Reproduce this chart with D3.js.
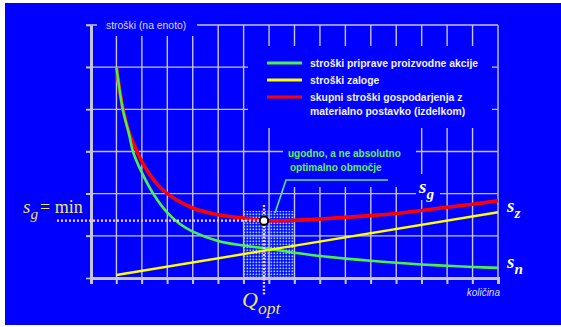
<!DOCTYPE html>
<html>
<head>
<meta charset="utf-8">
<script src="https://cdn.jsdelivr.net/npm/d3@7"></script>
<style>
    body { margin: 0; background: #fff; }
    svg { display: block; }
</style>
</head>
<body>
<script>
// quantity measured in grid steps (0..16), cost in grid steps (0..6)
const greenQty  = [1, 1.25, 1.5, 1.65, 2, 2.5, 3, 3.5, 4, 5, 6, 7, 8, 9, 10, 11, 12, 13, 14, 15, 16];
const greenCost = [5.0, 4.0, 3.4, 3.0, 2.5, 1.95, 1.55, 1.28, 1.1, 0.88, 0.77, 0.69, 0.60, 0.52, 0.46, 0.41, 0.36, 0.32, 0.29, 0.26, 0.24];
const yellowQty  = [1, 16];
const yellowCost = [0.07, 1.56];
const redQty  = [1, 1.26, 1.5, 1.81, 2, 2.5, 3, 4, 5, 6, 6.8, 8, 9, 10, 11, 12, 13, 14, 15, 16];
const redCost = [5.0, 4.0, 3.45, 3.0, 2.76, 2.3, 2.0, 1.66, 1.5, 1.42, 1.36, 1.37, 1.40, 1.44, 1.48, 1.53, 1.60, 1.68, 1.75, 1.83];
const optQty = 6.8;
const minCost = 1.36;
const zoneQty = [6, 8];
const zoneTop = 1.59;

const legendLabels = [
    ["stroški priprave proizvodne akcije"],
    ["stroški zaloge"],
    ["skupni stroški gospodarjenja z", "materialno postavko (izdelkom)"]
];
const legendColors = ["#4cf04c", "#ffff00", "#ff0000"];
const yTitle = "stroški (na enoto)";
const xTitle = "količina";
const noteLines = ["ugodno, a ne absolutno", "optimalno območje"];

const svgWidth = 561;
const svgHeight = 327;
const plot = {left: 91, right: 498, top: 25, bottom: 278};

const blue = "#0000ff";
const gridColor = "#c4c4d4";
const paleYellow = "#e8e65e";

window.onload = main;

function main() {
    const svg = d3.select("body").append("svg")
        .attr("width", svgWidth)
        .attr("height", svgHeight);

    svg.append("rect")
        .attr("x", 5).attr("y", 3)
        .attr("width", svgWidth - 5).attr("height", 322)
        .attr("fill", blue);

    const x = d3.scaleLinear().domain([0, 16]).range([plot.left, plot.right]);
    const y = d3.scaleLinear().domain([0, 6]).range([plot.bottom, plot.top]);

    // dotted "good enough" zone
    const defs = svg.append("defs");
    const pat = defs.append("pattern")
        .attr("id", "dots")
        .attr("patternUnits", "userSpaceOnUse")
        .attr("width", 3).attr("height", 3);
    pat.append("rect").attr("x", 0.5).attr("y", 0.5).attr("width", 1.7).attr("height", 1.7)
        .attr("fill", "#9cd6ff");
    svg.append("rect")
        .attr("x", x(zoneQty[0]))
        .attr("y", y(zoneTop))
        .attr("width", x(zoneQty[1]) - x(zoneQty[0]))
        .attr("height", y(0) - y(zoneTop))
        .attr("fill", "url(#dots)");

    // grid
    const grid = svg.append("g").attr("stroke", gridColor).attr("stroke-width", 1.4);
    grid.selectAll(null)
        .data(x.ticks(16).slice(1))
        .join("line")
        .attr("x1", d => x(d)).attr("x2", d => x(d))
        .attr("y1", plot.top).attr("y2", plot.bottom + 6);
    grid.selectAll(null)
        .data(y.ticks(6).slice(1))
        .join("line")
        .attr("x1", plot.left - 5).attr("x2", plot.right)
        .attr("y1", d => y(d)).attr("y2", d => y(d));

    // axes
    svg.append("g")
        .attr("transform", `translate(0, ${plot.bottom})`)
        .call(d3.axisBottom(x).ticks(16).tickSize(6).tickFormat(""))
        .call(g => g.select(".domain").attr("stroke", gridColor).attr("stroke-width", 3))
        .call(g => g.selectAll(".tick line").attr("stroke", gridColor).attr("stroke-width", 1.6));
    svg.append("g")
        .attr("transform", `translate(${plot.left}, 0)`)
        .call(d3.axisLeft(y).ticks(6).tickSize(5).tickSizeOuter(0).tickFormat(""))
        .call(g => g.select(".domain").attr("stroke", gridColor).attr("stroke-width", 3))
        .call(g => g.selectAll(".tick line").attr("stroke", gridColor).attr("stroke-width", 1.6));

    // blue boxes behind the labels cut the grid
    const masks = [
        [97, 16, 100, 20],
        [248, 46, 244, 82],
        [283, 128, 133, 59],
        [416, 174, 24, 26]
    ];
    svg.selectAll(null)
        .data(masks)
        .join("rect")
        .attr("x", d => d[0]).attr("y", d => d[1])
        .attr("width", d => d[2]).attr("height", d => d[3])
        .attr("fill", blue);

    // curves
    const line = d3.line().x(d => x(d[0])).y(d => y(d[1])).curve(d3.curveCatmullRom.alpha(0.5));
    const curves = [
        {qty: redQty, cost: redCost, color: legendColors[2], width: 3.6},
        {qty: greenQty, cost: greenCost, color: legendColors[0], width: 2.6},
        {qty: yellowQty, cost: yellowCost, color: legendColors[1], width: 2.4}
    ];
    svg.selectAll(null)
        .data(curves)
        .join("path")
        .attr("d", c => line(d3.zip(c.qty, c.cost)))
        .attr("fill", "none")
        .attr("stroke", c => c.color)
        .attr("stroke-width", c => c.width);

    // optimum guides
    svg.append("line")
        .attr("x1", 57).attr("x2", x(optQty))
        .attr("y1", y(minCost)).attr("y2", y(minCost))
        .attr("stroke", "#f0d4ff").attr("stroke-width", 2.4)
        .attr("stroke-dasharray", "2,2");
    svg.append("line")
        .attr("x1", x(optQty)).attr("x2", x(optQty))
        .attr("y1", 205).attr("y2", 296)
        .attr("stroke", "#f0d4ff").attr("stroke-width", 2.4)
        .attr("stroke-dasharray", "2,1.5");
    svg.append("circle")
        .attr("cx", x(optQty)).attr("cy", y(minCost))
        .attr("r", 4.2)
        .attr("fill", "#fff").attr("stroke", "#000").attr("stroke-width", 2);

    // y title
    svg.append("text")
        .attr("x", 106).attr("y", 29)
        .attr("font-family", "Liberation Sans, Arial, sans-serif")
        .attr("font-size", 10.4)
        .attr("fill", "#dcdcf0")
        .text(yTitle);

    // x title
    svg.append("text")
        .attr("x", 500).attr("y", 296)
        .attr("text-anchor", "end")
        .attr("font-family", "Liberation Sans, Arial, sans-serif")
        .attr("font-style", "italic")
        .attr("font-size", 10)
        .attr("fill", "#dcdcf0")
        .text(xTitle);

    // legend
    const legendRowY = [63, 80, 97];
    const leg = svg.append("g");
    leg.selectAll(null)
        .data(legendColors)
        .join("line")
        .attr("x1", 267).attr("x2", 302)
        .attr("y1", (d, i) => legendRowY[i]).attr("y2", (d, i) => legendRowY[i])
        .attr("stroke", d => d).attr("stroke-width", 3);
    leg.selectAll(null)
        .data(legendLabels)
        .join("text")
        .attr("x", 310)
        .attr("y", (d, i) => legendRowY[i] + 4)
        .attr("font-family", "Liberation Sans, Arial, sans-serif")
        .attr("font-weight", "bold")
        .attr("font-size", 10.4)
        .attr("fill", "#f2f2f2")
        .selectAll("tspan")
        .data(d => d)
        .join("tspan")
        .attr("x", 310)
        .attr("dy", (d, i) => i === 0 ? 0 : 14)
        .text(d => d);

    // note with leader line
    svg.append("polyline")
        .attr("points", "388,180 286,180 275,213")
        .attr("fill", "none")
        .attr("stroke", "#5ee8a6").attr("stroke-width", 1.6);
    svg.append("text")
        .attr("font-family", "Liberation Sans, Arial, sans-serif")
        .attr("font-weight", "bold")
        .attr("font-size", 10)
        .attr("fill", "#66f066")
        .selectAll("tspan")
        .data(noteLines)
        .join("tspan")
        .attr("x", (d, i) => i === 0 ? 288 : 290)
        .attr("y", (d, i) => 157 + i * 14)
        .text(d => d);

    // math labels
    const serif = "Liberation Serif, Times New Roman, serif";
    const sub = (sel, base, idx, x0, y0, size, color, weight) => {
        const t = sel.append("text")
            .attr("x", x0).attr("y", y0)
            .attr("font-family", serif)
            .attr("font-style", "italic")
            .attr("font-weight", weight)
            .attr("font-size", size)
            .attr("fill", color);
        t.append("tspan").text(base);
        t.append("tspan").attr("dy", size * 0.32).attr("font-size", size * 0.8).text(idx);
        return t;
    };
    sub(svg, "s", "g", 23, 213, 19, paleYellow, "normal");
    svg.append("text")
        .attr("x", 40).attr("y", 213)
        .attr("font-family", serif)
        .attr("font-size", 18)
        .attr("fill", paleYellow)
        .text("= min");
    sub(svg, "Q", "opt", 242, 307, 22, paleYellow, "normal");
    sub(svg, "s", "g", 419, 193, 19, "#fff", "bold");
    sub(svg, "s", "z", 507, 212, 19, "#fff", "bold");
    sub(svg, "s", "n", 507, 268, 19, "#fff", "bold");
}
</script>
</body>
</html>
